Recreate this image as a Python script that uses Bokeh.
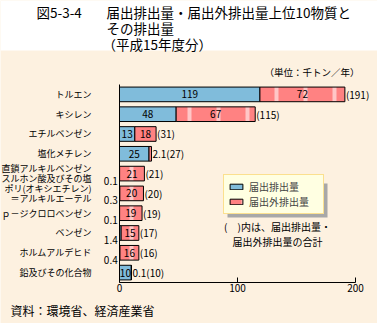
from bokeh.plotting import figure
from bokeh.models import (Range1d, FixedTicker, ColumnDataSource, Label, LinearAxis,
                          Legend, LegendItem, BoxAnnotation)
from bokeh.core.properties import value
from bokeh.embed import file_html
from bokeh.resources import INLINE

# ---------------- data ----------------
substances = ["トルエン", "キシレン", "エチルベンゼン", "塩化メチレン",
              "直鎖アルキルベンゼン\nスルホン酸及びその塩",
              "ポリ(オキシエチレン)\n＝アルキルエーテル",
              "ｐ－ジクロロベンゼン", "ベンゼン", "ホルムアルデヒド", "鉛及びその化合物"]
reported = [119, 48, 13, 25, 0.1, 0.3, 0.1, 1.4, 0.4, 10]        # 届出排出量
unreported = [72, 67, 18, 2.1, 21, 20, 19, 15, 16, 0.1]          # 届出外排出量
totals = [191, 115, 31, 27, 21, 20, 19, 17, 16, 10]              # 合計
x_ticks = [0, 100, 200]

FONT = "Noto Sans CJK JP"
BLUE = "#80bcdb"
RED = "#ff8282"
BG = "#fdf1e0"
W, H = 377, 323

def fmt(v):
    return f"{v:g}"

idx = list(range(len(substances)))
stack_end = [r + u for r, u in zip(reported, unreported)]
src = ColumnDataSource(dict(i=idx, rep=reported, unrep=unreported, end=stack_end))

# frame covers the whole canvas; axes are fixed inside it
p = figure(width=W, height=H, output_backend="svg", toolbar_location=None,
           x_range=Range1d(-100.85, 218.64), y_range=Range1d(11.571, -4.742),
           x_axis_location=None, y_axis_location=None,
           min_border=0, background_fill_color=BG, border_fill_color=BG,
           outline_line_color=None)
p.title.visible = False
p.xgrid.visible = False
p.ygrid.visible = False

# white header area
p.add_layout(BoxAnnotation(left=0, right=W, top=H, bottom=H - 50,
                           left_units="screen", right_units="screen", top_units="screen",
                           bottom_units="screen", fill_color="white", fill_alpha=1,
                           line_color=None))

xaxis = LinearAxis(fixed_location=len(substances) - 0.5, bounds=(0, 200),
                   ticker=FixedTicker(ticks=x_ticks), major_tick_in=5, major_tick_out=0,
                   minor_tick_line_color=None, axis_line_color="black",
                   major_tick_line_color="black", major_label_text_font=FONT,
                   major_label_text_font_size="10px", major_label_text_color="black",
                   major_label_standoff=2)
p.add_layout(xaxis, "below")

yaxis = LinearAxis(fixed_location=0, bounds=(-0.5, len(substances) - 0.5),
                   ticker=FixedTicker(ticks=idx),
                   major_label_overrides={i: s for i, s in zip(idx, substances)},
                   major_tick_line_color=None, minor_tick_line_color=None,
                   axis_line_color="black", major_label_text_font=FONT,
                   major_label_text_font_size="9px", major_label_text_color="black",
                   major_label_text_line_height=0.72, major_label_standoff=22)
p.add_layout(yaxis, "left")

# bars
r_rep = p.hbar(y="i", left=0, right="rep", height=0.74, fill_color=BLUE,
               line_color="black", line_width=1, source=src)
r_unrep = p.hbar(y="i", left="rep", right="end", height=0.74, fill_color=RED,
                 line_color="black", line_width=1, hatch_pattern="|", hatch_scale=29,
                 hatch_weight=4, hatch_color="white", hatch_alpha=0.55, source=src)

# in-bar labels
bl = [(i, r / 2, fmt(r)) for i, r in zip(idx, reported) if r >= 3]
rl = [(i, r + u / 2, fmt(u)) for i, r, u in zip(idx, reported, unreported) if u >= 3]
in_src = ColumnDataSource(dict(i=[a[0] for a in bl + rl], x=[a[1] for a in bl + rl],
                               t=[a[2] for a in bl + rl]))
p.text(x="x", y="i", text="t", source=in_src, text_align="center", text_baseline="middle",
       text_font=value(FONT), text_font_size="10px", text_color="black")

# end labels
end_txt = [(fmt(u) if u < 3 else "") + f"({fmt(t)})" for u, t in zip(unreported, totals)]
end_src = ColumnDataSource(dict(i=idx, x=stack_end, t=end_txt))
p.text(x="x", y="i", text="t", source=end_src, text_align="left", text_baseline="middle",
       x_offset=1, text_font=value(FONT), text_font_size="10px", text_color="black")

# small reported values, left of axis
sm = [(i, fmt(r)) for i, r in zip(idx, reported) if r < 3]
sm_src = ColumnDataSource(dict(i=[a[0] for a in sm], x=[-1.5] * len(sm), t=[a[1] for a in sm]))
p.text(x="x", y="i", text="t", source=sm_src, text_align="right", text_baseline="middle",
       y_offset=7, text_font=value(FONT), text_font_size="10px", text_color="black")

def lab(x, y, t, size, align="left"):
    p.add_layout(Label(x=x, y=H - y, x_units="screen", y_units="screen", text=t,
                       text_font=FONT, text_font_size=size, text_align=align,
                       text_baseline="middle", text_color="black"))

lab(36, 11, "図5-3-4", "13.5px")
lab(106, 11, "届出排出量・届出外排出量上位10物質と", "13.5px")
lab(106, 27, "その排出量", "13.5px")
lab(102, 43, "（平成15年度分）", "13.5px")
lab(359, 71, "（単位：千トン／年）", "9.5px", "right")
lab(277, 226, "(　)内は、届出排出量・", "10px", "center")
lab(277, 241, "届出外排出量の合計", "10px", "center")
lab(10, 310, "資料：環境省、経済産業省", "12px")

# legend shadow + legend
p.add_layout(BoxAnnotation(left=227, right=327, top=H - 183, bottom=H - 217,
                           left_units="screen", right_units="screen", top_units="screen",
                           bottom_units="screen", fill_color="#a8a8a8", fill_alpha=1,
                           line_color=None))
legend = Legend(items=[LegendItem(label="届出排出量", renderers=[r_rep]),
                       LegendItem(label="届出外排出量", renderers=[r_unrep])],
                location=(223, H - 214), margin=0, padding=4, spacing=-4,
                glyph_width=16, glyph_height=7, label_height=9, label_standoff=5,
                label_width=70,
                label_text_font=FONT, label_text_font_size="10px",
                background_fill_color="#ffffe2", background_fill_alpha=1,
                border_line_color="#f7c23c", border_line_width=1.5)
p.add_layout(legend)

open("out.html", "w").write(file_html(p, INLINE))
